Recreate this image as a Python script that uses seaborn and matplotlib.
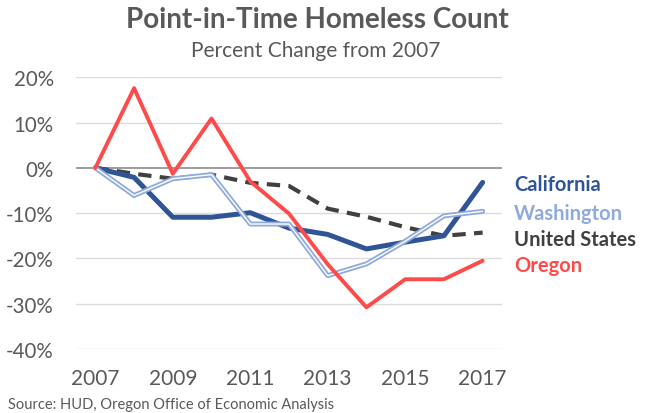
import numpy as np
import pandas as pd
import matplotlib
matplotlib.use("Agg")
import matplotlib.pyplot as plt
import matplotlib.patheffects as pe
import seaborn as sns

years = list(range(2007, 2018))
california = [0.0, -2.1, -10.9, -10.9, -9.9, -13.3, -14.7, -17.9, -16.4, -15.0, -3.2]
washington = [0.0, -6.1, -2.4, -1.5, -12.4, -12.4, -23.8, -21.2, -16.2, -10.6, -9.6]
united_states = [0.0, -1.3, -2.4, -1.5, -3.3, -4.0, -9.0, -10.8, -13.1, -15.0, -14.3]
oregon = [0.0, 17.6, -1.3, 10.9, -3.0, -10.1, -21.3, -30.8, -24.6, -24.6, -20.5]

y_ticks = [20, 10, 0, -10, -20, -30, -40]
x_ticks = [2007, 2009, 2011, 2013, 2015, 2017]
series_names = ["California", "Washington", "United States", "Oregon"]

title = "Point-in-Time Homeless Count"
subtitle = "Percent Change from 2007"
source = "Source: HUD, Oregon Office of Economic Analysis"

df = pd.DataFrame({
    "year": years * 4,
    "value": california + washington + united_states + oregon,
    "series": sum([[n] * len(years) for n in series_names], []),
})

sns.set_theme(style="white")
plt.rcParams["font.family"] = ["Lato", "DejaVu Sans"]
plt.rcParams["axes.unicode_minus"] = False

W, H = 653, 414
fig = plt.figure(figsize=(W / 100, H / 100), dpi=100)
ax = fig.add_axes([76 / W, (H - 350) / H, 426 / W, (350 - 78.3) / H])

gray = "#595959"
c_ca = "#2F5597"
c_wa = "#8FAADC"
c_us = "#404040"
c_or = "#FF4A4A"

for t in y_ticks:
    if t == 0:
        ax.axhline(t, color="#8C8C8C", lw=1.2, zorder=1)
    else:
        ax.axhline(t, color="#DCDCDC", lw=1.0, zorder=1)

d = df[df.series == "United States"]
sns.lineplot(data=d, x="year", y="value", ax=ax, color=c_us, lw=3.0,
             dashes=False, zorder=3, legend=False)
ax.lines[-1].set_dashes([3.2, 2.0])
ax.lines[-1].set_dash_capstyle("butt")

d = df[df.series == "California"]
sns.lineplot(data=d, x="year", y="value", ax=ax, color=c_ca, lw=3.6,
             zorder=4, legend=False)

d = df[df.series == "Washington"]
sns.lineplot(data=d, x="year", y="value", ax=ax, color="white", lw=1.0,
             zorder=5, legend=False,
             path_effects=[pe.Stroke(linewidth=3.6, foreground=c_wa), pe.Normal()])

d = df[df.series == "Oregon"]
sns.lineplot(data=d, x="year", y="value", ax=ax, color=c_or, lw=2.8,
             zorder=6, legend=False)

ax.set_xlim(2006.5, 2017.5)
ax.set_ylim(-40, 20)
ax.set_xticks(x_ticks)
ax.set_xticklabels([str(x) for x in x_ticks])
ax.set_yticks(y_ticks)
ax.set_yticklabels([f"{t}%" for t in y_ticks])
ax.tick_params(axis="x", length=0, pad=14, labelsize=15, labelcolor=gray)
ax.tick_params(axis="y", length=0, pad=16, labelsize=14.8, labelcolor=gray)
ax.set_xlabel("")
ax.set_ylabel("")
for s in ax.spines.values():
    s.set_visible(False)

fig.text(317 / W, 1 - 20 / H, title, ha="center", va="center",
         fontsize=20, fontweight="bold", color=gray)
fig.text(316 / W, 1 - 51 / H, subtitle, ha="center", va="center",
         fontsize=15, color=gray)
fig.text(8 / W, 1 - 405 / H, source, ha="left", va="center",
         fontsize=10.5, color=gray)

label_y = [185, 214, 240, 266]
label_c = [c_ca, c_wa, c_us, c_or]
for name, yy, cc in zip(series_names, label_y, label_c):
    fig.text(514 / W, 1 - yy / H, name, ha="left", va="center",
             fontsize=14.5, fontweight="bold", color=cc)

fig.savefig("out.png", dpi=100, facecolor="white")
